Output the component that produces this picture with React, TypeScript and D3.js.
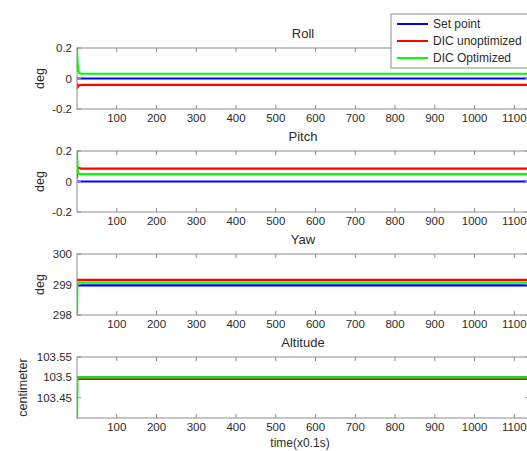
import React from 'react';
import { scaleLinear, line } from 'd3';

// time axis (x0.1s)
const tMax = 1137;
const timeTicks = [100, 200, 300, 400, 500, 600, 700, 800, 900, 1000, 1100];

const seriesNames = ['Set point', 'DIC unoptimized', 'DIC Optimized'];
const seriesColors = ['#0000ff', '#ff0000', '#00ff00'];

// [time, value] points
const rollSet = [[0, 0], [tMax, 0]];
const rollUnopt = [[0, -0.03], [2, -0.055], [5, -0.045], [10, -0.042], [tMax, -0.042]];
const rollOpt = [[0, 0.2], [1, 0.12], [3, 0.05], [6, 0.035], [12, 0.031], [tMax, 0.031]];

const pitchSet = [[0, 0], [tMax, 0]];
const pitchUnopt = [[0, 0.02], [1, 0.095], [4, 0.09], [10, 0.085], [tMax, 0.085]];
const pitchOpt = [[0, 0.2], [1, 0.1], [3, 0.055], [8, 0.049], [tMax, 0.049]];

const yawSet = [[0, 298.97], [tMax, 298.97]];
const yawUnopt = [[0, 299.15], [tMax, 299.15]];
const yawOpt = [[0, 297.9], [1, 299.06], [tMax, 299.06]];

const altSet = [[0, 103.5], [tMax, 103.5]];
const altUnopt = [[0, 103.496], [tMax, 103.496]];
const altOpt = [[0, 103.38], [1, 103.5], [tMax, 103.5]];

const panels = [
  { title: 'Roll', ylabel: 'deg', domain: [-0.2, 0.2], ticks: [-0.2, 0, 0.2], tickLabels: ['-0.2', '0', '0.2'], series: [rollSet, rollUnopt, rollOpt] },
  { title: 'Pitch', ylabel: 'deg', domain: [-0.2, 0.2], ticks: [-0.2, 0, 0.2], tickLabels: ['-0.2', '0', '0.2'], series: [pitchSet, pitchUnopt, pitchOpt] },
  { title: 'Yaw', ylabel: 'deg', domain: [298, 300], ticks: [298, 299, 300], tickLabels: ['298', '299', '300'], series: [yawSet, yawUnopt, yawOpt] },
  { title: 'Altitude', ylabel: 'centimeter', domain: [103.4, 103.55], ticks: [103.45, 103.5, 103.55], tickLabels: ['103.45', '103.5', '103.55'], series: [altSet, altUnopt, altOpt] },
];

const width = 527;
const height = 451;
const left = 77;
const right = 529;
const firstTop = 48;
const step = 103;
const plotH = 61;
const tickLen = 4;
const axisColor = '#8c8c8c';
const textColor = '#2b2b2b';
const font = 'Liberation Sans, Arial, sans-serif';

const x = scaleLinear().domain([0, tMax]).range([left, right]);

export default function App() {
  return (
    <svg
      width={width}
      height={height}
      style={{ position: 'absolute', left: 0, top: 0, background: '#fff' }}
      fontFamily={font}
    >
      <defs>
        {panels.map((p, i) => (
          <clipPath id={`clip${i}`} key={i}>
            <rect x={left} y={firstTop + i * step - 1} width={right - left} height={plotH + 2} />
          </clipPath>
        ))}
      </defs>
      {panels.map((p, i) => {
        const top = firstTop + i * step;
        const bottom = top + plotH;
        const y = scaleLinear().domain(p.domain).range([bottom, top]);
        const path = line<number[]>()
          .x(d => x(d[0]))
          .y(d => y(d[1]));
        return (
          <g key={p.title}>
            <g clipPath={`url(#clip${i})`}>
              {p.series.map((s, k) => (
                <path key={k} d={path(s) || ''} fill="none" stroke={seriesColors[k]} strokeWidth={2.2} />
              ))}
            </g>
            <rect x={left} y={top} width={right - left} height={plotH} fill="none" stroke={axisColor} strokeWidth={1} />
            {timeTicks.map(t => (
              <g key={t}>
                <line x1={x(t)} x2={x(t)} y1={bottom} y2={bottom - tickLen} stroke={axisColor} />
                <line x1={x(t)} x2={x(t)} y1={top} y2={top + tickLen} stroke={axisColor} />
                <text x={x(t)} y={bottom + 13} textAnchor="middle" fontSize={11.5} fill={textColor}>
                  {t}
                </text>
              </g>
            ))}
            {p.ticks.map((v, j) => (
              <g key={v}>
                <line x1={left} x2={left + tickLen} y1={y(v)} y2={y(v)} stroke={axisColor} />
                <line x1={right} x2={right - tickLen} y1={y(v)} y2={y(v)} stroke={axisColor} />
                <text x={left - 5} y={y(v)} dy="0.35em" textAnchor="end" fontSize={11.5} fill={textColor}>
                  {p.tickLabels[j]}
                </text>
              </g>
            ))}
            <text x={(left + right) / 2} y={top - 10} textAnchor="middle" fontSize={13} fill={textColor}>
              {p.title}
            </text>
            <text
              transform={`translate(${p.ylabel === 'deg' ? 44 : 27}, ${(top + bottom) / 2}) rotate(-90)`}
              textAnchor="middle"
              fontSize={12.5}
              fill={textColor}
            >
              {p.ylabel}
            </text>
          </g>
        );
      })}
      <text x={300} y={447} textAnchor="middle" fontSize={12} fill={textColor}>
        time(x0.1s)
      </text>
      <g>
        <rect x={391} y={14} width={140} height={54} fill="#fff" stroke={axisColor} />
        {seriesNames.map((n, k) => (
          <g key={n}>
            <line x1={397} x2={428} y1={24 + k * 17} y2={24 + k * 17} stroke={seriesColors[k]} strokeWidth={2} />
            <text x={433} y={24 + k * 17} dy="0.35em" fontSize={12} fill={textColor}>
              {n}
            </text>
          </g>
        ))}
      </g>
    </svg>
  );
}
